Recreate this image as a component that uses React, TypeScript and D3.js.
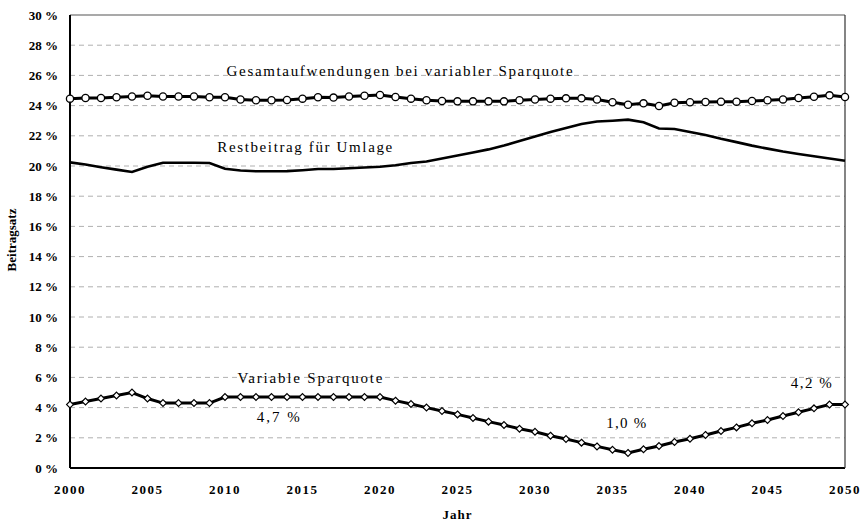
import React from "react";
import * as d3 from "d3";

const years: number[] = d3.range(2000, 2051);

const gesamt: number[] = [
  24.46, 24.5, 24.5, 24.55, 24.6, 24.65, 24.6, 24.6, 24.6, 24.55,
  24.55, 24.4, 24.35, 24.35, 24.37, 24.46, 24.55, 24.53, 24.6, 24.65,
  24.7, 24.57, 24.46, 24.35, 24.3, 24.28, 24.28, 24.28, 24.28, 24.35,
  24.4, 24.46, 24.48, 24.48, 24.4, 24.22, 24.06, 24.15, 23.97, 24.19,
  24.22, 24.24, 24.26, 24.26, 24.3, 24.35, 24.41, 24.5, 24.59, 24.68,
  24.57,
];

const restbeitrag: number[] = [
  20.24, 20.1, 19.92, 19.76, 19.6, 19.95, 20.22, 20.22, 20.22, 20.2,
  19.82, 19.7, 19.65, 19.65, 19.66, 19.72, 19.8, 19.8, 19.85, 19.9,
  19.95, 20.05, 20.2, 20.3, 20.5, 20.7, 20.9, 21.1, 21.35, 21.65,
  21.95, 22.25, 22.52, 22.78, 22.95, 23.0, 23.07, 22.9, 22.48, 22.45,
  22.25, 22.05, 21.8, 21.58, 21.35, 21.15, 20.96, 20.8, 20.65, 20.5,
  20.35,
];

const sparquote: number[] = [
  4.2, 4.4, 4.6, 4.8, 5.0, 4.6, 4.3, 4.3, 4.3, 4.3,
  4.7, 4.7, 4.7, 4.7, 4.7, 4.7, 4.7, 4.7, 4.7, 4.7,
  4.7, 4.46, 4.24, 4.0, 3.77, 3.55, 3.31, 3.07, 2.85, 2.6,
  2.4, 2.14, 1.92, 1.68, 1.43, 1.21, 1.0, 1.24, 1.46, 1.72,
  1.94, 2.19, 2.45, 2.69, 2.96, 3.18, 3.44, 3.69, 3.95, 4.2,
  4.2,
];

const yTicks: number[] = d3.range(0, 31, 2);
const xTicks: number[] = d3.range(2000, 2051, 5);

const labels = [
  { text: "Gesamtaufwendungen bei variabler Sparquote", year: 2010.1, value: 25.95, width: 346 },
  { text: "Restbeitrag für Umlage", year: 2009.5, value: 20.95, width: 175 },
  { text: "Variable Sparquote", year: 2010.8, value: 5.65, width: 145 },
  { text: "4,7 %", year: 2012.05, value: 3.05, width: 43 },
  { text: "1,0 %", year: 2034.6, value: 2.65, width: 40 },
  { text: "4,2 %", year: 2046.5, value: 5.3, width: 41 },
];

const W = 866;
const H = 522;
const M = { left: 70, right: 21, top: 15, bottom: 54 };

export default function App() {
  const x = d3.scaleLinear().domain([2000, 2050]).range([M.left, W - M.right]);
  const y = d3.scaleLinear().domain([0, 30]).range([H - M.bottom, M.top]);

  const line = d3
    .line<number>()
    .x((_, i) => x(years[i]))
    .y((d) => y(d));

  const serif = '"Liberation Serif", "Times New Roman", Times, serif';

  return (
    <svg
      width={W}
      height={H}
      style={{ position: "absolute", left: 0, top: 0, background: "#fff", fontFamily: serif }}
    >
      {/* gridlines */}
      {yTicks.filter((t) => t > 0 && t < 30).map((t) => (
        <line
          key={"g" + t}
          x1={x(2000)}
          x2={x(2050)}
          y1={y(t)}
          y2={y(t)}
          stroke="#b0b0b0"
          strokeWidth={1}
          strokeDasharray="5,4"
        />
      ))}
      {/* frame */}
      <line x1={x(2000)} x2={x(2050)} y1={y(30)} y2={y(30)} stroke="#555" strokeWidth={1.2} />
      <line x1={x(2000)} x2={x(2000)} y1={y(0)} y2={y(30)} stroke="#000" strokeWidth={2} />
      <line x1={x(2000)} x2={x(2050)} y1={y(0)} y2={y(0)} stroke="#000" strokeWidth={2} />
      <line x1={x(2050)} x2={x(2050)} y1={y(0)} y2={y(30)} stroke="#333" strokeWidth={1.2} />

      {/* y tick labels */}
      {yTicks.map((t) => (
        <text
          key={"yt" + t}
          x={58}
          y={y(t)}
          dy="0.35em"
          textAnchor="end"
          fontSize={13}
          fontWeight="bold"
        >
          {t + " %"}
        </text>
      ))}
      {/* x tick labels */}
      {xTicks.map((t) => (
        <text
          key={"xt" + t}
          x={x(t)}
          y={494}
          textAnchor="middle"
          fontSize={13}
          fontWeight="bold"
          letterSpacing={1.5}
        >
          {t}
        </text>
      ))}
      <text x={(x(2000) + x(2050)) / 2} y={519} textAnchor="middle" fontSize={13} fontWeight="bold" letterSpacing={1}>
        Jahr
      </text>
      <text
        transform={`translate(16, 240) rotate(-90)`}
        textAnchor="middle"
        fontSize={13}
        fontWeight="bold"
      >
        Beitragsatz
      </text>

      {/* Restbeitrag */}
      <path d={line(restbeitrag) ?? ""} fill="none" stroke="#000" strokeWidth={2.6} />

      {/* Gesamt */}
      <path d={line(gesamt) ?? ""} fill="none" stroke="#000" strokeWidth={3} />
      {gesamt.map((v, i) => (
        <circle key={"c" + i} cx={x(years[i])} cy={y(v)} r={3.6} fill="#fff" stroke="#000" strokeWidth={1.3} />
      ))}

      {/* Sparquote */}
      <path d={line(sparquote) ?? ""} fill="none" stroke="#000" strokeWidth={3} />
      {sparquote.map((v, i) => {
        const cx = x(years[i]);
        const cy = y(v);
        const s = 3.4;
        return (
          <path
            key={"d" + i}
            d={`M${cx},${cy - s}L${cx + s},${cy}L${cx},${cy + s}L${cx - s},${cy}Z`}
            fill="#fff"
            stroke="#000"
            strokeWidth={1.2}
          />
        );
      })}

      {/* annotations */}
      {labels.map((l) => (
        <text
          key={l.text}
          x={x(l.year)}
          y={y(l.value)}
          fontSize={15}
          textLength={l.width}
          lengthAdjust="spacing"
        >
          {l.text}
        </text>
      ))}
    </svg>
  );
}
